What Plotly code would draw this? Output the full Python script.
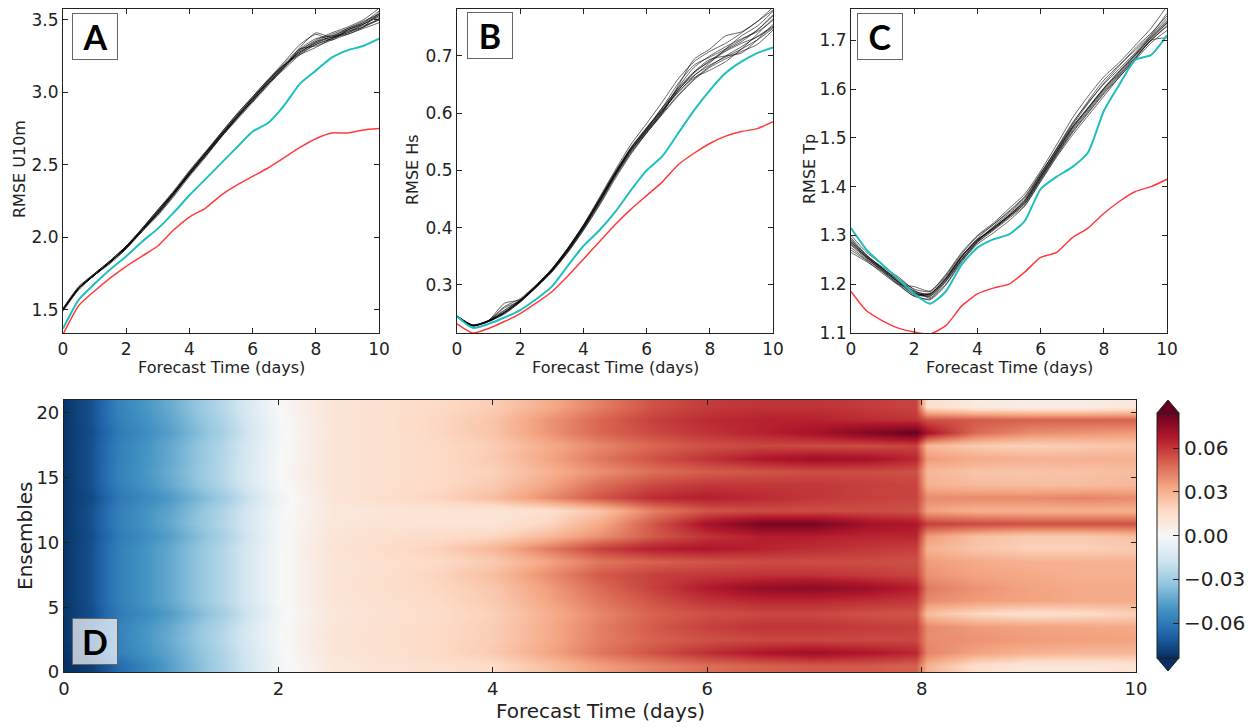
import plotly.graph_objects as go

# forecast lead time for the RMSE curves (days)
DAYS = [0, 0.5, 1, 1.5, 2, 2.5, 3, 3.5, 4, 4.5, 5, 5.5, 6, 6.5, 7, 7.5, 8, 8.5, 9, 9.5, 10]

# panel A - RMSE U10m
U10M_MEMBERS = [
    [1.50, 1.65, 1.74, 1.83, 1.93, 2.05, 2.16, 2.29, 2.43, 2.56, 2.69, 2.82, 2.94, 3.06, 3.17, 3.27, 3.33, 3.37, 3.41, 3.45, 3.50],
    [1.51, 1.66, 1.75, 1.84, 1.94, 2.06, 2.19, 2.32, 2.46, 2.59, 2.72, 2.85, 2.97, 3.09, 3.21, 3.33, 3.40, 3.36, 3.43, 3.48, 3.56],
    [1.50, 1.64, 1.74, 1.83, 1.93, 2.04, 2.15, 2.28, 2.42, 2.55, 2.69, 2.82, 2.95, 3.08, 3.20, 3.30, 3.32, 3.36, 3.40, 3.44, 3.48],
    [1.50, 1.65, 1.75, 1.84, 1.94, 2.06, 2.18, 2.31, 2.45, 2.58, 2.71, 2.84, 2.96, 3.08, 3.19, 3.27, 3.35, 3.40, 3.44, 3.49, 3.54],
    [1.49, 1.64, 1.74, 1.83, 1.92, 2.04, 2.17, 2.31, 2.45, 2.58, 2.70, 2.83, 2.94, 3.06, 3.16, 3.26, 3.33, 3.37, 3.42, 3.45, 3.51],
    [1.50, 1.65, 1.74, 1.83, 1.93, 2.05, 2.18, 2.30, 2.43, 2.57, 2.71, 2.84, 2.96, 3.07, 3.18, 3.30, 3.37, 3.39, 3.41, 3.47, 3.53],
    [1.50, 1.65, 1.74, 1.83, 1.93, 2.06, 2.19, 2.31, 2.44, 2.56, 2.69, 2.81, 2.93, 3.05, 3.17, 3.29, 3.36, 3.41, 3.45, 3.50, 3.58],
    [1.50, 1.65, 1.74, 1.82, 1.92, 2.05, 2.16, 2.29, 2.44, 2.58, 2.72, 2.85, 2.97, 3.09, 3.19, 3.26, 3.31, 3.37, 3.43, 3.47, 3.52],
    [1.51, 1.66, 1.75, 1.84, 1.94, 2.05, 2.17, 2.30, 2.44, 2.57, 2.70, 2.83, 2.95, 3.07, 3.18, 3.29, 3.35, 3.38, 3.40, 3.45, 3.55],
    [1.50, 1.65, 1.74, 1.83, 1.93, 2.05, 2.17, 2.30, 2.43, 2.56, 2.70, 2.83, 2.96, 3.08, 3.19, 3.28, 3.34, 3.39, 3.43, 3.47, 3.53],
    [1.50, 1.65, 1.74, 1.83, 1.93, 2.04, 2.16, 2.30, 2.45, 2.58, 2.71, 2.83, 2.95, 3.07, 3.18, 3.31, 3.41, 3.38, 3.42, 3.46, 3.50],
    [1.50, 1.65, 1.74, 1.83, 1.93, 2.05, 2.18, 2.31, 2.44, 2.57, 2.70, 2.82, 2.94, 3.06, 3.18, 3.28, 3.34, 3.38, 3.44, 3.48, 3.54],
]
U10M_CYAN = [1.37, 1.57, 1.68, 1.78, 1.87, 1.97, 2.06, 2.17, 2.29, 2.40, 2.51, 2.62, 2.73, 2.79, 2.91, 3.06, 3.15, 3.24, 3.29, 3.32, 3.37]
U10M_RED = [1.33, 1.53, 1.63, 1.72, 1.80, 1.87, 1.94, 2.05, 2.14, 2.20, 2.29, 2.36, 2.42, 2.48, 2.55, 2.62, 2.68, 2.72, 2.72, 2.74, 2.75]

# panel B - RMSE Hs
HS_MEMBERS = [
    [0.245, 0.229, 0.236, 0.251, 0.271, 0.296, 0.324, 0.358, 0.398, 0.442, 0.490, 0.532, 0.566, 0.600, 0.632, 0.660, 0.682, 0.700, 0.716, 0.734, 0.752],
    [0.246, 0.230, 0.238, 0.262, 0.276, 0.300, 0.328, 0.364, 0.405, 0.452, 0.500, 0.545, 0.582, 0.620, 0.660, 0.690, 0.708, 0.722, 0.740, 0.760, 0.785],
    [0.244, 0.228, 0.236, 0.250, 0.270, 0.295, 0.322, 0.356, 0.395, 0.438, 0.485, 0.528, 0.565, 0.598, 0.630, 0.658, 0.680, 0.695, 0.708, 0.720, 0.745],
    [0.245, 0.229, 0.237, 0.255, 0.273, 0.298, 0.326, 0.362, 0.402, 0.448, 0.495, 0.538, 0.572, 0.610, 0.652, 0.684, 0.698, 0.712, 0.728, 0.745, 0.770],
    [0.245, 0.230, 0.238, 0.268, 0.274, 0.297, 0.325, 0.360, 0.400, 0.445, 0.492, 0.535, 0.568, 0.602, 0.640, 0.672, 0.694, 0.700, 0.705, 0.728, 0.755],
    [0.245, 0.229, 0.237, 0.252, 0.272, 0.298, 0.327, 0.363, 0.404, 0.450, 0.497, 0.540, 0.575, 0.605, 0.636, 0.665, 0.688, 0.712, 0.735, 0.752, 0.778],
    [0.244, 0.228, 0.236, 0.249, 0.270, 0.296, 0.323, 0.357, 0.396, 0.440, 0.488, 0.530, 0.566, 0.600, 0.645, 0.680, 0.700, 0.716, 0.730, 0.742, 0.762],
    [0.246, 0.230, 0.238, 0.256, 0.274, 0.299, 0.327, 0.362, 0.402, 0.447, 0.494, 0.538, 0.574, 0.610, 0.642, 0.666, 0.684, 0.698, 0.712, 0.728, 0.748],
    [0.245, 0.229, 0.237, 0.252, 0.271, 0.296, 0.324, 0.359, 0.399, 0.444, 0.491, 0.534, 0.570, 0.604, 0.648, 0.694, 0.712, 0.735, 0.742, 0.760, 0.780],
    [0.245, 0.229, 0.237, 0.260, 0.272, 0.297, 0.325, 0.361, 0.401, 0.446, 0.493, 0.536, 0.571, 0.606, 0.638, 0.662, 0.675, 0.690, 0.712, 0.738, 0.765],
    [0.245, 0.229, 0.237, 0.252, 0.273, 0.299, 0.328, 0.364, 0.404, 0.449, 0.496, 0.539, 0.573, 0.608, 0.644, 0.672, 0.690, 0.708, 0.722, 0.733, 0.750],
    [0.245, 0.229, 0.237, 0.253, 0.272, 0.297, 0.325, 0.360, 0.400, 0.445, 0.492, 0.535, 0.569, 0.603, 0.640, 0.670, 0.692, 0.710, 0.725, 0.745, 0.772],
]
HS_CYAN = [0.245, 0.225, 0.232, 0.243, 0.256, 0.275, 0.297, 0.333, 0.368, 0.395, 0.427, 0.465, 0.500, 0.525, 0.565, 0.605, 0.640, 0.670, 0.690, 0.705, 0.715]
HS_RED = [0.232, 0.216, 0.224, 0.236, 0.250, 0.268, 0.288, 0.315, 0.345, 0.375, 0.405, 0.432, 0.456, 0.480, 0.510, 0.530, 0.547, 0.560, 0.568, 0.573, 0.585]

# panel C - RMSE Tp
TP_MEMBERS = [
    [1.285, 1.255, 1.230, 1.205, 1.182, 1.178, 1.210, 1.255, 1.290, 1.315, 1.340, 1.370, 1.420, 1.470, 1.520, 1.560, 1.600, 1.635, 1.670, 1.705, 1.735],
    [1.300, 1.265, 1.240, 1.212, 1.190, 1.185, 1.220, 1.265, 1.300, 1.325, 1.355, 1.385, 1.432, 1.485, 1.540, 1.585, 1.625, 1.655, 1.690, 1.725, 1.770],
    [1.270, 1.248, 1.222, 1.198, 1.175, 1.170, 1.200, 1.248, 1.282, 1.305, 1.330, 1.360, 1.410, 1.460, 1.505, 1.545, 1.585, 1.625, 1.660, 1.695, 1.720],
    [1.290, 1.258, 1.235, 1.215, 1.188, 1.172, 1.205, 1.250, 1.288, 1.318, 1.345, 1.375, 1.425, 1.478, 1.530, 1.572, 1.610, 1.642, 1.675, 1.710, 1.745],
    [1.280, 1.252, 1.226, 1.200, 1.176, 1.182, 1.215, 1.258, 1.292, 1.312, 1.338, 1.365, 1.415, 1.465, 1.512, 1.552, 1.592, 1.628, 1.664, 1.700, 1.730],
    [1.295, 1.260, 1.232, 1.208, 1.185, 1.180, 1.212, 1.256, 1.294, 1.322, 1.350, 1.380, 1.428, 1.475, 1.525, 1.570, 1.612, 1.648, 1.684, 1.715, 1.750],
    [1.275, 1.250, 1.228, 1.202, 1.178, 1.168, 1.198, 1.245, 1.285, 1.310, 1.335, 1.362, 1.412, 1.462, 1.510, 1.550, 1.590, 1.625, 1.662, 1.700, 1.705],
    [1.288, 1.256, 1.232, 1.210, 1.186, 1.180, 1.212, 1.258, 1.290, 1.315, 1.342, 1.372, 1.422, 1.472, 1.522, 1.562, 1.602, 1.638, 1.672, 1.708, 1.740],
    [1.282, 1.254, 1.228, 1.204, 1.180, 1.175, 1.208, 1.252, 1.288, 1.314, 1.340, 1.368, 1.418, 1.468, 1.518, 1.558, 1.598, 1.632, 1.668, 1.702, 1.735],
    [1.265, 1.246, 1.225, 1.200, 1.195, 1.186, 1.218, 1.262, 1.298, 1.322, 1.348, 1.378, 1.426, 1.476, 1.528, 1.575, 1.618, 1.650, 1.680, 1.712, 1.755],
    [1.292, 1.258, 1.233, 1.206, 1.183, 1.176, 1.206, 1.250, 1.286, 1.312, 1.338, 1.366, 1.416, 1.466, 1.515, 1.555, 1.595, 1.630, 1.665, 1.700, 1.728],
    [1.286, 1.255, 1.231, 1.204, 1.181, 1.179, 1.211, 1.256, 1.291, 1.316, 1.341, 1.371, 1.421, 1.471, 1.521, 1.561, 1.601, 1.636, 1.671, 1.706, 1.738],
]
TP_CYAN = [1.315, 1.270, 1.240, 1.210, 1.180, 1.160, 1.185, 1.240, 1.275, 1.292, 1.302, 1.330, 1.395, 1.420, 1.440, 1.470, 1.555, 1.610, 1.660, 1.670, 1.710]
TP_RED = [1.185, 1.145, 1.125, 1.110, 1.102, 1.098, 1.115, 1.155, 1.180, 1.192, 1.200, 1.225, 1.255, 1.265, 1.295, 1.315, 1.345, 1.370, 1.390, 1.400, 1.415]

# panel D - difference field, one row per ensemble member
HEAT_DAYS = [0, 0.25, 0.5, 1, 1.5, 2, 2.5, 3, 3.5, 4, 4.5, 5, 5.5, 6, 6.5, 7, 7.5, 7.95, 8.05, 8.5, 9, 9.5, 10]
ENSEMBLE_EDGES = [0, 1, 2, 3, 4, 5, 6, 7, 8, 9, 10, 11, 12, 13, 14, 15, 16, 17, 18, 19, 20, 21]
SKILL_DIFF = [
    [-0.084, -0.080, -0.066, -0.046, -0.026, -0.003, 0.009, 0.012, 0.014, 0.016, 0.025, 0.035, 0.042, 0.047, 0.050, 0.052, 0.052, 0.050, 0.030, 0.015, 0.010, 0.010, 0.012],
    [-0.083, -0.075, -0.058, -0.044, -0.025, -0.002, 0.011, 0.014, 0.017, 0.022, 0.033, 0.045, 0.054, 0.062, 0.068, 0.072, 0.068, 0.064, 0.042, 0.034, 0.030, 0.028, 0.028],
    [-0.082, -0.074, -0.057, -0.042, -0.023, -0.001, 0.011, 0.014, 0.017, 0.021, 0.031, 0.043, 0.050, 0.054, 0.056, 0.056, 0.056, 0.056, 0.040, 0.038, 0.036, 0.035, 0.034],
    [-0.082, -0.073, -0.057, -0.043, -0.024, -0.001, 0.011, 0.014, 0.017, 0.021, 0.031, 0.043, 0.052, 0.058, 0.061, 0.061, 0.059, 0.058, 0.040, 0.036, 0.034, 0.033, 0.032],
    [-0.082, -0.075, -0.060, -0.047, -0.028, -0.003, 0.010, 0.013, 0.016, 0.020, 0.030, 0.041, 0.050, 0.054, 0.056, 0.056, 0.054, 0.053, 0.026, 0.018, 0.014, 0.016, 0.020],
    [-0.082, -0.074, -0.058, -0.043, -0.024, -0.001, 0.011, 0.014, 0.017, 0.022, 0.033, 0.045, 0.054, 0.061, 0.064, 0.064, 0.062, 0.060, 0.040, 0.036, 0.034, 0.032, 0.032],
    [-0.082, -0.074, -0.058, -0.043, -0.024, -0.001, 0.011, 0.015, 0.018, 0.023, 0.035, 0.048, 0.058, 0.067, 0.074, 0.076, 0.072, 0.066, 0.044, 0.038, 0.034, 0.032, 0.032],
    [-0.082, -0.074, -0.058, -0.043, -0.024, -0.001, 0.011, 0.015, 0.019, 0.026, 0.039, 0.052, 0.058, 0.060, 0.061, 0.061, 0.059, 0.057, 0.038, 0.034, 0.032, 0.030, 0.030],
    [-0.082, -0.074, -0.058, -0.043, -0.024, -0.001, 0.011, 0.014, 0.017, 0.022, 0.033, 0.045, 0.050, 0.053, 0.055, 0.055, 0.055, 0.054, 0.036, 0.032, 0.030, 0.030, 0.030],
    [-0.082, -0.074, -0.058, -0.043, -0.024, -0.001, 0.012, 0.016, 0.020, 0.028, 0.043, 0.058, 0.066, 0.068, 0.065, 0.062, 0.060, 0.058, 0.030, 0.024, 0.020, 0.020, 0.022],
    [-0.082, -0.075, -0.060, -0.046, -0.027, -0.002, 0.011, 0.014, 0.016, 0.018, 0.027, 0.039, 0.052, 0.061, 0.066, 0.066, 0.064, 0.064, 0.036, 0.026, 0.022, 0.022, 0.026],
    [-0.082, -0.074, -0.058, -0.043, -0.024, -0.001, 0.010, 0.012, 0.012, 0.012, 0.018, 0.032, 0.053, 0.070, 0.080, 0.080, 0.071, 0.068, 0.058, 0.056, 0.054, 0.054, 0.054],
    [-0.082, -0.074, -0.058, -0.044, -0.025, -0.002, 0.009, 0.011, 0.012, 0.011, 0.014, 0.024, 0.043, 0.053, 0.055, 0.055, 0.055, 0.054, 0.034, 0.030, 0.030, 0.030, 0.030],
    [-0.082, -0.076, -0.061, -0.048, -0.030, -0.004, 0.011, 0.015, 0.019, 0.026, 0.039, 0.053, 0.063, 0.066, 0.063, 0.060, 0.058, 0.057, 0.040, 0.040, 0.040, 0.042, 0.040],
    [-0.082, -0.074, -0.058, -0.043, -0.024, -0.001, 0.011, 0.014, 0.017, 0.022, 0.033, 0.047, 0.056, 0.060, 0.060, 0.060, 0.058, 0.057, 0.030, 0.027, 0.026, 0.026, 0.028],
    [-0.082, -0.074, -0.057, -0.042, -0.023, 0.000, 0.011, 0.014, 0.017, 0.020, 0.029, 0.039, 0.047, 0.051, 0.053, 0.055, 0.055, 0.054, 0.028, 0.024, 0.024, 0.025, 0.026],
    [-0.082, -0.074, -0.058, -0.043, -0.024, -0.001, 0.011, 0.014, 0.017, 0.022, 0.033, 0.045, 0.054, 0.061, 0.068, 0.072, 0.070, 0.064, 0.036, 0.032, 0.030, 0.030, 0.030],
    [-0.082, -0.074, -0.058, -0.043, -0.024, -0.001, 0.011, 0.014, 0.017, 0.021, 0.031, 0.041, 0.049, 0.054, 0.056, 0.055, 0.055, 0.057, 0.028, 0.022, 0.020, 0.022, 0.024],
    [-0.082, -0.075, -0.060, -0.046, -0.027, -0.002, 0.011, 0.014, 0.018, 0.024, 0.037, 0.049, 0.056, 0.061, 0.065, 0.070, 0.078, 0.084, 0.070, 0.048, 0.040, 0.038, 0.036],
    [-0.082, -0.074, -0.058, -0.044, -0.025, -0.001, 0.011, 0.014, 0.018, 0.024, 0.037, 0.049, 0.058, 0.063, 0.065, 0.065, 0.063, 0.061, 0.054, 0.052, 0.050, 0.050, 0.050],
    [-0.082, -0.074, -0.057, -0.042, -0.023, 0.000, 0.011, 0.014, 0.017, 0.021, 0.031, 0.043, 0.054, 0.059, 0.061, 0.061, 0.059, 0.057, 0.014, 0.008, 0.006, 0.006, 0.010],
]

COLORBAR_TICKS = [-0.06, -0.03, 0.0, 0.03, 0.06]

RDBU_R = [
    [0.0, "#053061"], [0.1, "#2166ac"], [0.2, "#4393c3"], [0.3, "#92c5de"],
    [0.4, "#d1e5f0"], [0.5, "#f7f7f7"], [0.6, "#fddbc7"], [0.7, "#f4a582"],
    [0.8, "#d6604d"], [0.9, "#b2182b"], [1.0, "#67001f"],
]

# the html page keeps the browser's 8px body margin, so the figure is 8px smaller
# and every pixel position below is given in window coordinates
PAGE_PAD = 8
W, H = 1260 - PAGE_PAD, 728 - PAGE_PAD
FONT = "DejaVu Sans"
INK = "#222222"


def px_x(p):
    return (p - PAGE_PAD) / W


def px_y(p):
    return min(1.0, 1 - (p - PAGE_PAD) / H)


fig = go.Figure()

# top row: ensemble spaghetti + cyan / red reference runs
panels = [
    ("x", "y", U10M_MEMBERS, U10M_CYAN, U10M_RED),
    ("x2", "y2", HS_MEMBERS, HS_CYAN, HS_RED),
    ("x3", "y3", TP_MEMBERS, TP_CYAN, TP_RED),
]
for xa, ya, members, cyan, red in panels:
    for m in members:
        fig.add_trace(go.Scatter(x=DAYS, y=m, mode="lines", xaxis=xa, yaxis=ya,
                                 line=dict(color="rgba(0,0,0,0.6)", width=1, shape="spline", smoothing=0.6),
                                 showlegend=False, hoverinfo="skip"))
    fig.add_trace(go.Scatter(x=DAYS, y=cyan, mode="lines", xaxis=xa, yaxis=ya,
                             line=dict(color="#1fbfbf", width=2, shape="spline", smoothing=0.6),
                             showlegend=False))
    fig.add_trace(go.Scatter(x=DAYS, y=red, mode="lines", xaxis=xa, yaxis=ya,
                             line=dict(color="#ff3b3b", width=1.5, shape="spline", smoothing=0.6),
                             showlegend=False))

# bottom: heatmap
fig.add_trace(go.Heatmap(
    x=HEAT_DAYS, y=ENSEMBLE_EDGES, z=SKILL_DIFF, xaxis="x4", yaxis="y4",
    zmin=-0.084, zmax=0.084, zsmooth="best", colorscale=RDBU_R,
    colorbar=dict(x=px_x(1157), xanchor="left", xpad=0, y=px_y(535.5), yanchor="middle", ypad=0,
                  len=245, lenmode="pixels", thickness=22, outlinewidth=1, outlinecolor=INK,
                  tickvals=COLORBAR_TICKS, tickformat=".2f", ticks="inside", ticklen=6, tickcolor=INK,
                  tickfont=dict(family=FONT, size=20, color=INK)),
))


def frame(size, **kw):
    d = dict(showline=True, linecolor=INK, linewidth=1.2, mirror="ticks", ticks="inside", ticklen=5,
             tickcolor=INK, showgrid=False, zeroline=False, automargin=False,
             tickfont=dict(family=FONT, size=size, color=INK))
    d.update(kw)
    return d


# top panels: the frame starts right at the top of the page
top_y = [px_y(333), px_y(PAGE_PAD + 1)]
x_ticks = [0, 2, 4, 6, 8, 10]

fig.update_layout(
    width=W, height=H, margin=dict(l=0, r=0, t=0, b=0),
    paper_bgcolor="white", plot_bgcolor="white",
    xaxis=frame(17, domain=[px_x(63), px_x(379)], range=[0, 10], tickvals=x_ticks, anchor="y"),
    yaxis=frame(17, domain=top_y, range=[1.34, 3.575], tickvals=[1.5, 2.0, 2.5, 3.0, 3.5], tickformat=".1f", anchor="x"),
    xaxis2=frame(17, domain=[px_x(457), px_x(773)], range=[0, 10], tickvals=x_ticks, anchor="y2"),
    yaxis2=frame(17, domain=top_y, range=[0.216, 0.782], tickvals=[0.3, 0.4, 0.5, 0.6, 0.7], tickformat=".1f", anchor="x2"),
    xaxis3=frame(17, domain=[px_x(851), px_x(1167)], range=[0, 10], tickvals=x_ticks, anchor="y3"),
    yaxis3=frame(17, domain=top_y, range=[1.1, 1.764], tickvals=[1.1, 1.2, 1.3, 1.4, 1.5, 1.6, 1.7], tickformat=".1f", anchor="x3"),
    xaxis4=frame(18, domain=[px_x(64), px_x(1136)], range=[0, 10], tickvals=x_ticks, anchor="y4"),
    yaxis4=frame(18, domain=[px_y(672), px_y(400)], range=[0, 21], tickvals=[0, 5, 10, 15, 20], anchor="x4"),
)

# axis titles, placed in pixels
titles = [
    ("Forecast Time (days)", 221, 367, 0, 16),
    ("Forecast Time (days)", 615, 367, 0, 16),
    ("Forecast Time (days)", 1009, 367, 0, 16),
    ("RMSE U10m", 19, 169, -90, 16),
    ("RMSE Hs", 412, 169, -90, 16),
    ("RMSE Tp", 809, 169, -90, 16),
    ("Forecast Time (days)", 600, 711, 0, 20),
    ("Ensembles", 25, 536, -90, 20),
]
for txt, cx, cy, ang, size in titles:
    fig.add_annotation(x=px_x(cx), y=px_y(cy), xref="paper", yref="paper", text=txt, textangle=ang,
                       showarrow=False, xanchor="center", yanchor="middle",
                       font=dict(family=FONT, size=size, color=INK))

# colorbar extension triangles
cb_l, cb_r = px_x(1157), px_x(1179)
cb_c = (cb_l + cb_r) / 2
fig.add_shape(type="path", xref="paper", yref="paper",
              path=f"M {cb_l},{px_y(413)} L {cb_r},{px_y(413)} L {cb_c},{px_y(400)} Z",
              fillcolor="#67001f", line=dict(color=INK, width=1))
fig.add_shape(type="path", xref="paper", yref="paper",
              path=f"M {cb_l},{px_y(658)} L {cb_r},{px_y(658)} L {cb_c},{px_y(671)} Z",
              fillcolor="#053061", line=dict(color=INK, width=1))

# panel letters
letters = [("A", 94.5, 36.5, "white"), ("B", 490, 36, "white"), ("C", 880, 36.5, "white"),
           ("D", 94.5, 641.5, "rgba(255,255,255,0.7)")]
for txt, cx, cy, bg in letters:
    fig.add_annotation(x=px_x(cx), y=px_y(cy), xref="paper", yref="paper", text=f"<b>{txt}</b>",
                       showarrow=False, xanchor="center", yanchor="middle", width=42, height=43,
                       bgcolor=bg, bordercolor="#666666", borderwidth=1, borderpad=1,
                       font=dict(family="Lato", size=34, color="black"))

fig.write_html("out.html")
